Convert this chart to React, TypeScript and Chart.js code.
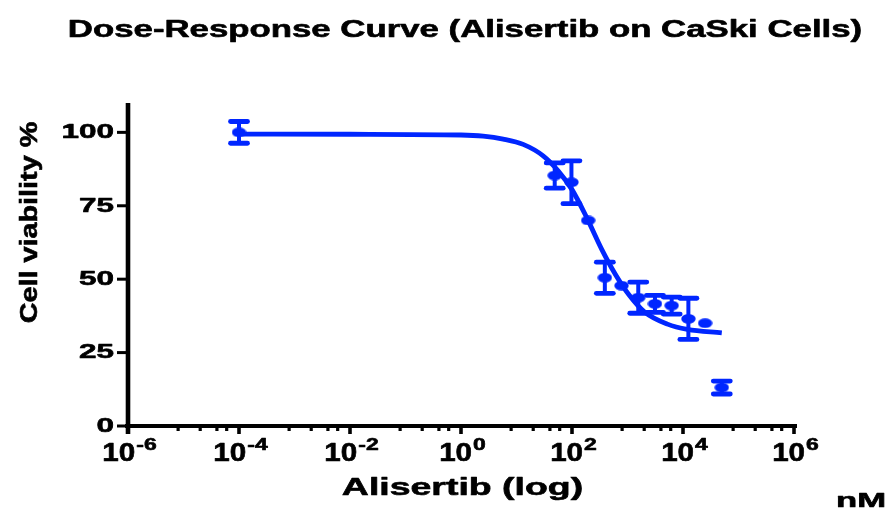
import { useEffect, useRef } from "react";
import { Chart, registerables } from "chart.js";

Chart.register(...registerables);

// Alisertib concentrations (nM) and CaSki cell viability (% of control)
const doses = [1e-4, 48.8, 97.7, 195.3, 390.6, 781.25, 1562.5, 3125, 6250, 12500, 25000, 50000];
const viability = [100, 85.3, 83, 70, 50.5, 47.8, 43.7, 41.6, 41, 36.5, 35, 13.1];
const errors = [3.7, 4.3, 7.3, 0, 5.3, 0, 5.3, 2.9, 2.9, 7, 0, 2.2];

// Fitted dose-response curve
const fitDoses = [1e-4, 1e-2, 1, 2.51, 5.75, 13.2, 30.2, 56.2, 100, 186, 347, 603, 1070, 2040, 5250, 12000, 50000];
const fitViability = [99.4, 99.35, 99.1, 98.7, 97.7, 95.9, 92.0, 86.9, 80.5, 70.8, 60.0, 51.7, 44.6, 38.8, 34.7, 32.9, 31.7];

// Axis ticks
const xTickExponents = [-6, -4, -2, 0, 2, 4, 6];
const xMinorMultipliers = [8, 20, 40, 60];
const yTicks = [0, 25, 50, 75, 100];

const BLUE = "rgb(0, 38, 255)";
const INK = "#000";
const FONT = '"Liberation Sans", Arial, sans-serif';

function drawText(
  ctx: CanvasRenderingContext2D,
  text: string,
  x: number,
  y: number,
  size: number,
  sx: number,
  align: "left" | "center" | "right",
  baseline: CanvasTextBaseline = "alphabetic"
) {
  ctx.save();
  ctx.font = `bold ${size}px ${FONT}`;
  ctx.textBaseline = baseline;
  ctx.textAlign = "left";
  const w = ctx.measureText(text).width * sx;
  const left = align === "center" ? x - w / 2 : align === "right" ? x - w : x;
  ctx.translate(left, y);
  ctx.scale(sx, 1);
  ctx.fillStyle = INK;
  ctx.strokeStyle = INK;
  ctx.lineWidth = 0.6;
  ctx.lineJoin = "round";
  ctx.fillText(text, 0, 0);
  ctx.strokeText(text, 0, 0);
  ctx.restore();
  return w;
}

function makeDot() {
  const c = document.createElement("canvas");
  c.width = 15;
  c.height = 10;
  const g = c.getContext("2d")!;
  g.fillStyle = BLUE;
  g.beginPath();
  g.ellipse(7.5, 5, 7.2, 4.8, 0, 0, Math.PI * 2);
  g.fill();
  return c;
}

const axesPlugin = {
  id: "gpAxes",
  beforeDatasetsDraw(chart: any) {
    const ctx: CanvasRenderingContext2D = chart.ctx;
    const xs = chart.scales.x;
    const ys = chart.scales.y;
    const x0 = xs.getPixelForValue(1e-6);
    const x1 = xs.getPixelForValue(1e6);
    const yZero = ys.getPixelForValue(0);
    const yTop = ys.getPixelForValue(110);
    ctx.save();
    ctx.strokeStyle = INK;
    ctx.lineCap = "butt";

    // y axis line
    ctx.lineWidth = 4.6;
    ctx.beginPath();
    ctx.moveTo(x0, yTop);
    ctx.lineTo(x0, yZero + 8);
    ctx.stroke();

    // x axis line
    ctx.lineWidth = 4.2;
    ctx.beginPath();
    ctx.moveTo(x0 - 3, yZero);
    ctx.lineTo(x1 + 3, yZero);
    ctx.stroke();

    // y ticks and labels
    ctx.lineWidth = 3;
    yTicks.forEach((v) => {
      const py = ys.getPixelForValue(v);
      ctx.beginPath();
      ctx.moveTo(x0 - 11, py);
      ctx.lineTo(x0, py);
      ctx.stroke();
      drawText(ctx, String(v), x0 - 14, py, 21, 1.5, "right", "middle");
    });

    // x major ticks, minor ticks and labels
    xTickExponents.forEach((e, i) => {
      const base = Math.pow(10, e);
      const px = xs.getPixelForValue(base);
      ctx.lineWidth = 3.6;
      ctx.beginPath();
      ctx.moveTo(px, yZero);
      ctx.lineTo(px, yZero + 8);
      ctx.stroke();
      if (i < xTickExponents.length - 1) {
        ctx.lineWidth = 3.2;
        xMinorMultipliers.forEach((m) => {
          const mx = xs.getPixelForValue(base * m);
          ctx.beginPath();
          ctx.moveTo(mx, yZero);
          ctx.lineTo(mx, yZero + 5);
          ctx.stroke();
        });
      }
      // "10" with a raised exponent
      ctx.save();
      ctx.font = `bold 26px ${FONT}`;
      const wBase = ctx.measureText("10").width * 1.14;
      ctx.font = `bold 17px ${FONT}`;
      const wSup = ctx.measureText(String(e)).width * 1.35;
      ctx.restore();
      const left = px - (wBase + wSup) / 2 + 1;
      drawText(ctx, "10", left, 461, 26, 1.14, "left");
      drawText(ctx, String(e), left + wBase + 1, 450, 17, 1.35, "left");
    });
    ctx.restore();
  },
  afterDraw(chart: any) {
    const ctx: CanvasRenderingContext2D = chart.ctx;
    drawText(ctx, "Dose-Response Curve (Alisertib on CaSki Cells)", 465, 37, 24, 1.449, "center");
    drawText(ctx, "Alisertib (log)", 462.5, 495, 24, 1.56, "center");
    drawText(ctx, "nM", 886, 507, 21, 1.65, "right");
    // rotated y-axis title
    ctx.save();
    ctx.translate(37, 222.5);
    ctx.rotate(-Math.PI / 2);
    ctx.scale(1.2, 1);
    ctx.font = `bold 24px ${FONT}`;
    ctx.textAlign = "center";
    ctx.textBaseline = "alphabetic";
    ctx.fillStyle = INK;
    ctx.strokeStyle = INK;
    ctx.lineWidth = 0.6;
    ctx.fillText("Cell viability %", 0, 0);
    ctx.strokeText("Cell viability %", 0, 0);
    ctx.restore();
  },
};

const errorBarPlugin = {
  id: "errorBars",
  afterDatasetsDraw(chart: any) {
    const ctx: CanvasRenderingContext2D = chart.ctx;
    const ys = chart.scales.y;
    const meta = chart.getDatasetMeta(1);
    ctx.save();
    ctx.strokeStyle = BLUE;
    meta.data.forEach((el: any, i: number) => {
      const err = errors[i];
      if (!err) return;
      const hi = ys.getPixelForValue(viability[i] + err);
      const lo = ys.getPixelForValue(viability[i] - err);
      ctx.lineWidth = 4;
      ctx.beginPath();
      ctx.moveTo(el.x, hi);
      ctx.lineTo(el.x, lo);
      ctx.stroke();
      ctx.lineWidth = 4.8;
      ctx.lineCap = "round";
      [hi, lo].forEach((py) => {
        ctx.beginPath();
        ctx.moveTo(el.x - 8.5, py);
        ctx.lineTo(el.x + 8.5, py);
        ctx.stroke();
      });
      ctx.lineCap = "butt";
    });
    ctx.restore();
  },
};

export default function App() {
  const ref = useRef<HTMLCanvasElement | null>(null);

  useEffect(() => {
    const canvas = ref.current;
    if (!canvas) return;
    const dot = makeDot();
    const chart = new Chart(canvas, {
      type: "line",
      data: {
        datasets: [
          {
            type: "line",
            data: fitDoses.map((x, i) => ({ x, y: fitViability[i] })),
            borderColor: BLUE,
            borderWidth: 4.8,
            pointRadius: 0,
            cubicInterpolationMode: "monotone",
            fill: false,
          },
          {
            type: "scatter",
            data: doses.map((x, i) => ({ x, y: viability[i] })),
            pointStyle: dot as any,
            pointRadius: 6,
            backgroundColor: BLUE,
            borderWidth: 0,
          },
        ],
      } as any,
      options: {
        animation: false,
        responsive: false,
        devicePixelRatio: 1,
        layout: { padding: { left: 128, right: 888 - 794, top: 103, bottom: 508 - 426 } },
        scales: {
          x: { type: "logarithmic", min: 1e-6, max: 1e6, display: false },
          y: { type: "linear", min: 0, max: 110, display: false },
        },
        plugins: {
          legend: { display: false },
          title: { display: false },
          tooltip: { enabled: false },
        },
      } as any,
      plugins: [axesPlugin, errorBarPlugin],
    });
    return () => chart.destroy();
  }, []);

  return (
    <div style={{ position: "absolute", left: 0, top: 0, width: 888, height: 508, background: "#fff" }}>
      <canvas ref={ref} width={888} height={508} style={{ display: "block" }} />
    </div>
  );
}
